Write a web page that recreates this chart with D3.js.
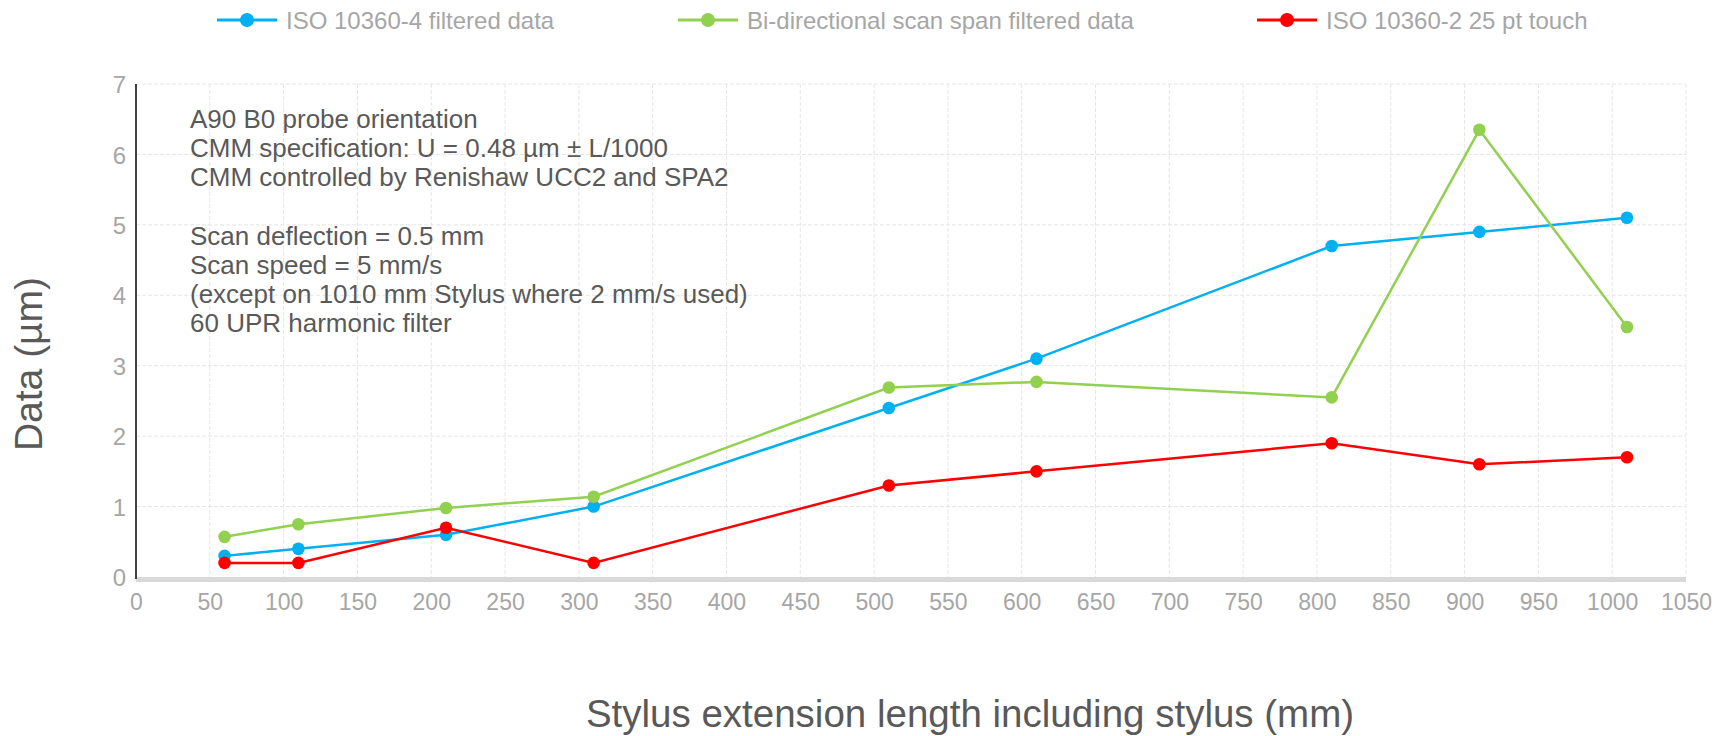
<!DOCTYPE html>
<html>
<head>
<meta charset="utf-8">
<script src="https://cdn.jsdelivr.net/npm/d3@7"></script>
<style>
  html, body { margin: 0; padding: 0; background: #fff; }
  svg { display: block; }
  text { font-family: "Liberation Sans", Arial, sans-serif; }
</style>
</head>
<body>
<svg id="chart" width="1719" height="736"></svg>
<script>
// ---- data ----
const xValues = [60, 110, 210, 310, 510, 610, 810, 910, 1010];
const iso4Filtered = [0.3, 0.4, 0.6, 1.0, 2.4, 3.1, 4.7, 4.9, 5.1];
const biDirectional = [0.57, 0.75, 0.98, 1.14, 2.69, 2.77, 2.55, 6.35, 3.55];
const iso2Touch = [0.2, 0.2, 0.7, 0.2, 1.3, 1.5, 1.9, 1.6, 1.7];
const seriesNames = ["ISO 10360-4 filtered data", "Bi-directional scan span filtered data", "ISO 10360-2 25 pt touch"];
const seriesColors = ["#00b0f0", "#92d050", "#ff0000"];
const xTicks = [0, 50, 100, 150, 200, 250, 300, 350, 400, 450, 500, 550, 600, 650, 700, 750, 800, 850, 900, 950, 1000, 1050];
const yTicks = [0, 1, 2, 3, 4, 5, 6, 7];
const notes = [
  "A90 B0 probe orientation",
  "CMM specification: U = 0.48 µm ± L/1000",
  "CMM controlled by Renishaw UCC2 and SPA2",
  "",
  "Scan deflection = 0.5 mm",
  "Scan speed = 5 mm/s",
  "(except on 1010 mm Stylus where 2 mm/s used)",
  "60 UPR harmonic filter"
];
const xTitle = "Stylus extension length including stylus (mm)";
const yTitle = "Data (µm)";

const svg = d3.select("#chart");
const x = d3.scaleLinear().domain([0, 1050]).range([136, 1686]);
const y = d3.scaleLinear().domain([0, 7]).range([577, 84]);

// grid
const grid = svg.append("g");
grid.selectAll("line.v").data(xTicks.slice(1)).join("line")
  .attr("x1", d => x(d)).attr("x2", d => x(d))
  .attr("y1", y(7)).attr("y2", y(0))
  .attr("stroke", "#e6e6e6").attr("stroke-width", 1).attr("stroke-dasharray", "4,2");
grid.selectAll("line.h").data(yTicks.slice(1)).join("line")
  .attr("x1", x(0)).attr("x2", x(1050))
  .attr("y1", d => y(d)).attr("y2", d => y(d))
  .attr("stroke", "#e6e6e6").attr("stroke-width", 1).attr("stroke-dasharray", "4,2");

// x axis bar
svg.append("line")
  .attr("x1", x(0)).attr("x2", x(1050))
  .attr("y1", y(0) + 2.5).attr("y2", y(0) + 2.5)
  .attr("stroke", "#d9d9d9").attr("stroke-width", 5);

// y axis line
svg.append("line")
  .attr("x1", x(0)).attr("x2", x(0))
  .attr("y1", y(7)).attr("y2", y(0) + 2)
  .attr("stroke", "#404040").attr("stroke-width", 2);

// axes (labels only)
const xAxis = d3.axisBottom(x).tickValues(xTicks).tickFormat(d3.format("d")).tickSize(0).tickPadding(0);
const gx = svg.append("g").attr("transform", `translate(0,${y(0) + 33})`).call(xAxis);
gx.select(".domain").remove();
gx.selectAll("text").attr("dy", 0).attr("fill", "#a6a6a6")
  .style("font-size", "23px").style("font-family", "'Liberation Sans', Arial, sans-serif");

const yAxis = d3.axisLeft(y).tickValues(yTicks).tickFormat(d3.format("d")).tickSize(0).tickPadding(0);
const gy = svg.append("g").attr("transform", `translate(${x(0) - 10},0)`).call(yAxis);
gy.select(".domain").remove();
gy.selectAll("text").attr("dy", "0.36em").attr("fill", "#a6a6a6")
  .style("font-size", "24px").style("font-family", "'Liberation Sans', Arial, sans-serif");

// series
const allSeries = [iso4Filtered, biDirectional, iso2Touch];
const line = d3.line().x((d, i) => x(xValues[i])).y(d => y(d));
allSeries.forEach((vals, k) => {
  const g = svg.append("g");
  g.append("path").datum(vals).attr("d", line)
    .attr("fill", "none").attr("stroke", seriesColors[k]).attr("stroke-width", 2.5);
  g.selectAll("circle").data(vals).join("circle")
    .attr("cx", (d, i) => x(xValues[i])).attr("cy", d => y(d))
    .attr("r", 6.3).attr("fill", seriesColors[k]);
});

// notes
const noteG = svg.append("text").attr("x", 190).attr("y", 0)
  .attr("fill", "#595959").style("font-size", "26px");
notes.forEach((t, i) => {
  noteG.append("tspan").attr("x", 190).attr("y", 128 + i * 29.2).text(t || " ");
});

// legend
const legendX = [217, 678, 1257];
const leg = svg.append("g");
seriesNames.forEach((n, i) => {
  const lg = leg.append("g").attr("transform", `translate(${legendX[i]},20)`);
  lg.append("line").attr("x1", 0).attr("x2", 60).attr("y1", 0).attr("y2", 0)
    .attr("stroke", seriesColors[i]).attr("stroke-width", 3);
  lg.append("circle").attr("cx", 30).attr("cy", 0).attr("r", 7).attr("fill", seriesColors[i]);
  lg.append("text").attr("x", 69).attr("y", 0).attr("dy", "0.36em")
    .attr("fill", "#a6a6a6").style("font-size", "24px").text(n);
});

// axis titles
svg.append("text").attr("x", 970).attr("y", 727).attr("text-anchor", "middle")
  .attr("fill", "#595959").style("font-size", "38.5px").text(xTitle);
svg.append("text").attr("transform", "translate(42,364) rotate(-90)").attr("text-anchor", "middle")
  .attr("fill", "#595959").style("font-size", "39px").text(yTitle);
</script>
</body>
</html>
